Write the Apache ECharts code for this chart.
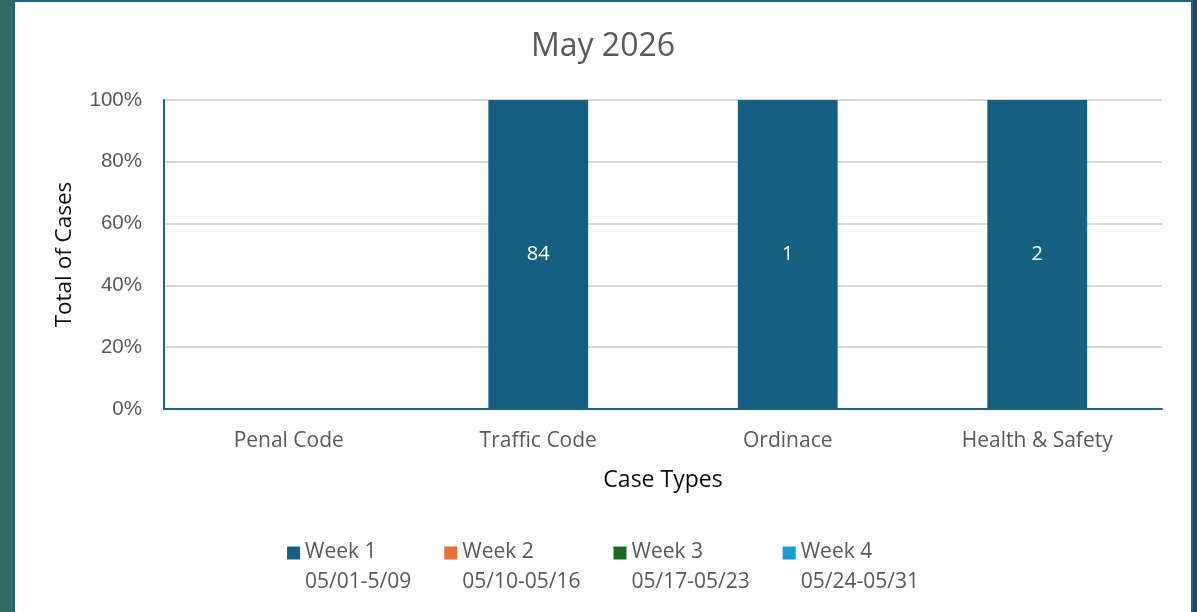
<!DOCTYPE html>
<html>
<head>
<meta charset="utf-8">
<script src="https://cdn.jsdelivr.net/npm/echarts@6/dist/echarts.min.js"></script>
<style>
  html, body { margin: 0; padding: 0; width: 1197px; height: 612px; overflow: hidden; }
  body { background: linear-gradient(to right, #2e6a62 0px, #2f6c66 13px, #17445e 1193px); position: relative; }
  #panel { position: absolute; left: 13px; top: 0; width: 1180px; height: 612px; box-sizing: border-box;
           border-left: 2px solid #1f6286; border-top: 2px solid #1f6286; border-right: 2px solid #1f6286; background: #fff; }
  #chart { width: 100%; height: 100%; }
</style>
</head>
<body>
<div id="panel"><div id="chart"></div></div>
<script>
const categories = ['Penal Code', 'Traffic Code', 'Ordinace', 'Health & Safety'];
const weekNames = ['Week 1', 'Week 2', 'Week 3', 'Week 4'];
const weekRanges = ['05/01-5/09', '05/10-05/16', '05/17-05/23', '05/24-05/31'];
const week1 = [0, 84, 1, 2];
const week2 = [0, 0, 0, 0];
const week3 = [0, 0, 0, 0];
const week4 = [0, 0, 0, 0];
const yTicks = ['0%', '20%', '40%', '60%', '80%', '100%'];
const colors = ['#156082', '#e97132', '#196b24', '#0f9ed5'];

const FONT = 'Open Sans';
const weeks = [week1, week2, week3, week4];
const totals = categories.map((c, i) => weeks.reduce((s, w) => s + w[i], 0));

const series = weeks.map((w, k) => ({
  name: weekNames[k],
  type: 'bar',
  stack: 'total',
  barWidth: '40%',
  itemStyle: { color: colors[k] },
  data: w.map((v, i) => ({ value: totals[i] ? v / totals[i] * 100 : 0, raw: v })),
  label: {
    show: true,
    position: 'inside',
    color: '#ffffff',
    fontFamily: FONT,
    fontSize: 20,
    formatter: p => (p.data.raw ? String(p.data.raw) : '')
  }
}));

const chart = echarts.init(document.getElementById('chart'));
chart.setOption({
  animation: false,
  color: colors,
  title: {
    text: 'May 2026',
    left: 'center',
    top: 24,
    textStyle: { fontFamily: FONT, fontSize: 32, fontWeight: 'normal', color: '#595959' }
  },
  grid: { left: 149, right: 29, top: 98, bottom: 203 },
  xAxis: {
    type: 'category',
    data: categories,
    name: 'Case Types',
    nameLocation: 'middle',
    nameGap: 60,
    nameTextStyle: { fontFamily: FONT, fontSize: 23, color: '#0d0d0d' },
    axisLine: { lineStyle: { color: '#1f6286', width: 2 } },
    axisTick: { show: false },
    axisLabel: { margin: 22, fontFamily: FONT, fontSize: 21, color: '#595959' }
  },
  yAxis: {
    type: 'value',
    min: 0, max: 100, interval: 20,
    name: 'Total of Cases',
    nameLocation: 'middle',
    nameGap: 88,
    nameTextStyle: { fontFamily: FONT, fontSize: 22.5, color: '#0d0d0d' },
    axisLine: { show: true, lineStyle: { color: '#1f6286', width: 2 } },
    axisTick: { show: false },
    splitLine: { lineStyle: { color: '#d9d9d9', width: 2 } },
    axisLabel: {
      margin: 22, fontFamily: 'Liberation Sans', fontSize: 20.5, color: '#595959',
      formatter: v => yTicks[Math.round(v / 20)]
    }
  },
  legend: {
    left: 'center',
    top: 535,
    itemWidth: 13,
    itemHeight: 13,
    itemGap: 33,
    icon: 'rect',
    data: weekNames,
    formatter: name => '{a|' + name + '}\n{a|' + weekRanges[weekNames.indexOf(name)] + '}',
    textStyle: {
      padding: [29, 0, 0, 0],
      rich: { a: { fontFamily: FONT, fontSize: 21, color: '#595959', lineHeight: 30 } }
    }
  },
  series: series
});
</script>
</body>
</html>
